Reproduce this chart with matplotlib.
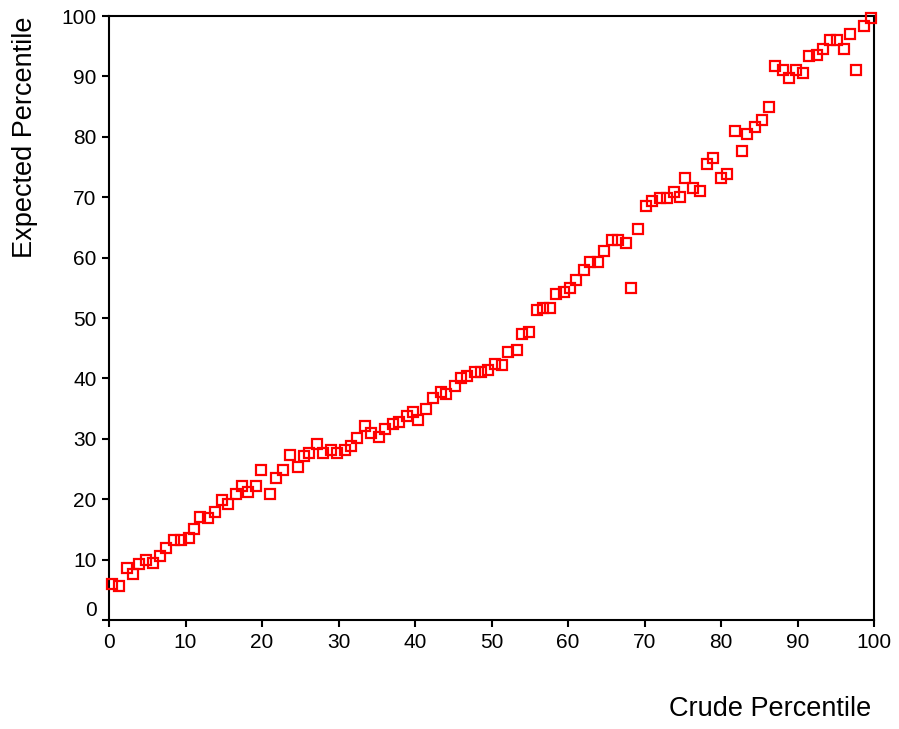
import matplotlib
matplotlib.use("Agg")
import matplotlib.pyplot as plt
from matplotlib.transforms import ScaledTranslation

crude = [0.4, 1.3, 2.3, 3.1, 3.9, 4.9, 5.7, 6.7, 7.5, 8.5, 9.4, 10.4, 11.1, 11.9,
         13.0, 13.8, 14.8, 15.6, 16.6, 17.4, 18.2, 19.2, 19.9, 21.0, 21.8, 22.8,
         23.6, 24.7, 25.5, 26.2, 27.2, 28.0, 29.0, 29.8, 30.8, 31.6, 32.4, 33.5,
         34.3, 35.3, 36.1, 37.1, 37.9, 38.95, 39.7, 40.4, 41.5, 42.4, 43.4, 44.1,
         45.2, 46.0, 46.8, 47.8, 48.6, 49.6, 50.4, 51.4, 52.2, 53.3, 54.0, 54.9,
         55.9, 56.7, 57.7, 58.4, 59.5, 60.2, 61.0, 62.1, 62.9, 63.9, 64.7, 65.7,
         66.6, 67.6, 68.3, 69.1, 70.2, 71.0, 72.0, 72.9, 73.8, 74.6, 75.3, 76.4,
         77.2, 78.2, 79.0, 80.0, 80.8, 81.8, 82.7, 83.4, 84.5, 85.3, 86.3, 87.1,
         88.1, 88.9, 89.8, 90.7, 91.5, 92.5, 93.3, 94.3, 95.1, 96.1, 96.9, 97.7,
         98.7, 99.6]
expected = [5.9, 5.6, 8.6, 7.6, 9.3, 9.9, 9.5, 10.6, 11.9, 13.3, 13.3, 13.6, 15.1, 17.1,
            16.9, 17.9, 19.8, 19.2, 20.8, 22.2, 21.2, 22.2, 24.8, 20.8, 23.5, 24.8,
            27.4, 25.4, 27.1, 27.7, 29.1, 27.7, 28.1, 27.7, 28.1, 28.8, 30.1, 32.1,
            31.0, 30.3, 31.7, 32.4, 32.7, 33.8, 34.4, 33.1, 35.0, 36.7, 37.8, 37.4,
            38.8, 40.1, 40.4, 41.1, 41.1, 41.4, 42.4, 42.3, 44.3, 44.7, 47.3, 47.6,
            51.3, 51.6, 51.6, 53.9, 54.3, 54.9, 56.3, 57.9, 59.3, 59.3, 61.1, 62.9,
            62.9, 62.5, 54.9, 64.8, 68.5, 69.4, 69.8, 69.8, 70.8, 70.1, 73.1, 71.5,
            71.1, 75.5, 76.5, 73.2, 73.8, 81.0, 77.7, 80.4, 81.7, 82.7, 85.0, 91.7,
            91.0, 89.7, 91.0, 90.6, 93.3, 93.6, 94.6, 96.0, 96.0, 94.6, 97.0, 91.0,
            98.3, 99.6]

ticks = [0, 10, 20, 30, 40, 50, 60, 70, 80, 90, 100]

plt.rcParams['font.family'] = ['Liberation Sans', 'DejaVu Sans']

fig = plt.figure(figsize=(8.99, 7.29), dpi=100)
ax = fig.add_axes([109 / 899, 1 - 620 / 729, 765 / 899, 604 / 729])

ax.plot(crude, expected, linestyle='none', marker='s', markersize=7.3,
        markerfacecolor='none', markeredgecolor='#ff0000', markeredgewidth=1.6,
        clip_on=False, zorder=3)

ax.set_xlim(0, 100)
ax.set_ylim(0, 100)
ax.set_xticks(ticks)
ax.set_yticks(ticks)
ax.tick_params(direction='out', length=5, width=1.5, labelsize=15, pad=4)
for s in ax.spines.values():
    s.set_linewidth(1.5)

# the "0" on the y axis sits a bit above its tick
lab = ax.yaxis.get_major_ticks()[0].label1
lab.set_transform(lab.get_transform() + ScaledTranslation(0, 0.11, fig.dpi_scale_trans))

fig.text(871 / 899, 1 - 709 / 729, 'Crude Percentile', ha='right', va='center', fontsize=19.5)
fig.text(25 / 899, 1 - 17 / 729, 'Expected Percentile', ha='center', va='top',
         rotation=90, fontsize=19.5)

fig.savefig('out.png', dpi=100)
